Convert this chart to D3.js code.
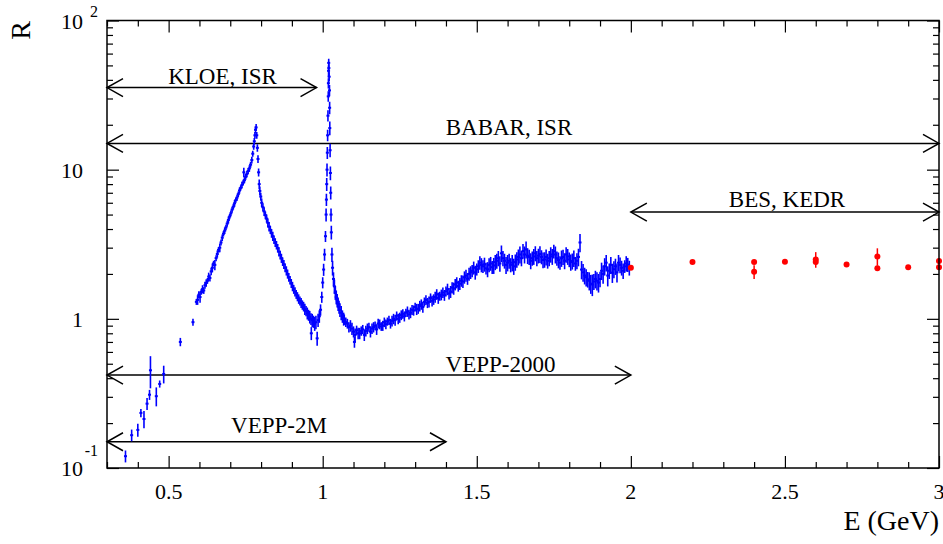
<!DOCTYPE html>
<html><head><meta charset="utf-8">
<script src="https://cdn.jsdelivr.net/npm/d3@7"></script>
<style>
body{margin:0;background:#fff}
svg{display:block}
text{font-family:"Liberation Serif","Times New Roman",Times,serif;fill:#000}
</style>
</head><body>
<svg id="c" width="943" height="544"></svg>
<script>
// ---------------- data ----------------
const blueE = [
0.360,0.380,0.400,0.410,0.420,0.430,0.438,0.441,0.460,0.471,0.484,0.538,0.579,
0.590,0.594,0.598,0.602,0.606,0.610,0.614,0.618,0.622,0.626,0.630,0.634,0.638,0.642,0.646,0.650,
0.654,0.658,0.662,0.666,0.670,0.674,0.678,0.682,0.686,0.690,0.694,0.698,0.702,0.706,0.710,0.714,
0.718,0.722,0.726,0.730,0.734,0.738,0.742,0.744,0.746,0.750,0.754,0.758,0.762,0.766,0.770,0.773,
0.776,0.778,0.780,0.782,0.784,0.786,
0.788,0.790,0.792,0.794,0.796,0.799,0.802,0.806,0.810,0.814,0.818,0.822,0.826,0.830,0.834,0.838,
0.842,0.846,0.850,0.854,0.858,0.862,0.866,0.870,0.874,0.878,0.882,0.886,0.890,0.894,0.898,0.902,
0.906,0.910,0.914,0.918,0.922,0.926,0.930,0.934,0.938,0.942,0.946,0.950,0.954,0.958,0.962,0.963,
0.966,0.970,0.974,0.978,0.982,0.985,0.989,
0.993,0.997,1.000,1.003,1.006,1.009,1.011,1.012,1.013,1.014,1.015,1.016,1.017,1.018,1.0185,1.019,
1.0195,1.020,1.021,1.022,1.0225,1.023,1.024,1.025,1.026,1.027,1.028,1.030,1.032,1.035,1.038,1.041,
1.044,1.047,1.050,1.053,1.056,1.060,1.064,1.068,
1.070,1.080,1.090,1.100,1.105,1.110,1.120,1.130,1.140,1.150,1.160,1.170,1.180,1.190,1.200,1.210,
1.220,1.230,1.240,1.250,1.260,1.270,1.280,1.290,1.300,1.310,1.320,1.330,1.340,1.350,1.360,1.370,
1.380,1.390,1.400,1.410,1.420,1.430,1.440,1.450,1.460,1.470,1.480,1.490,1.500,1.510,1.520,1.530,
1.540,1.550,1.560,1.570,1.580,1.590,1.600,1.610,1.620,1.630,1.640,1.650,1.660,1.670,1.680,1.690,
1.700,1.710,1.720,1.730,1.740,1.750,1.760,1.770,1.780,1.790,1.800,1.810,1.820,1.830,1.835,1.840,
1.850,1.860,1.870,1.880,1.890,1.900,1.910,1.920,1.930,1.940,1.950,1.960,1.970,1.980,1.990
];
const blueR = [
0.120,0.166,0.180,0.234,0.213,0.270,0.310,0.452,0.303,0.366,0.427,0.700,0.950,
1.30,1.34,1.45,1.40,1.52,1.58,1.55,1.68,1.74,1.80,1.92,1.88,2.08,2.20,2.35,2.30,
2.55,2.72,2.90,3.00,3.25,3.50,3.72,3.90,4.10,4.35,4.60,4.85,5.10,5.40,5.65,5.95,
6.25,6.50,6.85,7.25,7.55,7.90,8.20,9.60,8.50,8.95,9.35,9.80,10.2,10.8,11.6,12.8,
14.3,15.5,17.0,18.5,19.2,17.0,
14.0,11.8,9.6,8.0,7.2,6.6,6.0,5.6,5.25,4.95,4.70,4.40,4.15,3.95,3.75,3.58,
3.40,3.25,3.12,2.98,2.82,2.68,2.55,2.42,2.32,2.20,2.10,2.00,1.90,1.82,1.73,1.65,
1.58,1.52,1.46,1.41,1.36,1.32,1.28,1.24,1.21,1.16,1.13,1.09,1.06,1.03,1.00,0.80,
0.98,0.96,0.93,0.95,0.74,0.98,1.04,
1.15,1.40,1.75,2.14,2.70,3.58,5.0,6.3,8.0,10.0,13.0,17.0,23.0,31.0,38.0,46.0,
52.0,48.0,42.0,34.0,26.0,19.0,13.5,9.5,7.0,5.0,3.8,2.7,2.2,1.85,1.65,1.50,
1.40,1.33,1.26,1.20,1.15,1.10,1.04,1.00,
0.99,0.93,0.90,0.82,0.78,0.84,0.80,0.85,0.83,0.88,0.86,0.90,0.93,0.89,0.95,0.96,
0.93,1.00,1.05,1.02,1.08,1.10,1.07,1.15,1.20,1.17,1.25,1.30,1.28,1.38,1.35,1.46,
1.42,1.50,1.53,1.48,1.62,1.70,1.66,1.80,1.90,1.86,2.05,2.20,2.15,2.38,2.25,2.18,
2.30,2.22,2.40,2.55,2.75,2.45,2.38,2.30,2.25,2.50,2.70,2.85,2.92,2.60,2.55,2.75,
2.65,2.60,2.50,2.45,2.70,2.84,2.55,2.38,2.60,2.70,2.50,2.44,2.35,2.60,3.25,2.14,
1.95,1.84,1.72,1.78,1.80,1.85,2.00,2.38,2.10,2.04,2.25,2.38,2.20,2.25,2.31
];
const blueErr = [
0.011,0.015,0.018,0.015,0.028,0.025,0.024,0.11,0.044,0.020,0.058,0.045,0.050,
0.06,0.10,0.08,0.12,0.07,0.10,0.08,0.09,0.10,0.08,0.12,0.10,0.12,0.15,0.10,0.18,
0.12,0.15,0.13,0.20,0.15,0.18,0.16,0.20,0.18,0.20,0.25,0.20,0.22,0.25,0.25,0.30,
0.25,0.30,0.30,0.35,0.30,0.40,0.35,0.70,0.40,0.40,0.45,0.45,0.50,0.50,0.60,0.60,
0.70,0.80,0.90,1.00,1.00,0.90,
0.8,0.7,0.6,0.6,0.5,0.4,0.4,0.35,0.35,0.30,0.30,0.30,0.30,0.25,0.25,0.25,
0.22,0.22,0.20,0.20,0.20,0.18,0.18,0.16,0.16,0.15,0.15,0.14,0.13,0.12,0.12,0.12,
0.11,0.11,0.10,0.10,0.10,0.09,0.10,0.09,0.09,0.10,0.09,0.10,0.09,0.10,0.09,0.08,
0.10,0.09,0.10,0.10,0.08,0.10,0.10,
0.10,0.12,0.15,0.20,0.25,0.30,0.5,0.6,0.8,1.0,1.2,1.5,2.0,2.5,3.0,4.0,
3.5,3.5,3.0,3.0,2.5,2.0,1.4,1.0,0.7,0.5,0.4,0.3,0.25,0.2,0.18,0.16,
0.15,0.14,0.13,0.12,0.12,0.12,0.10,0.10,
0.08,0.07,0.08,0.07,0.08,0.06,0.07,0.06,0.07,0.06,0.07,0.06,0.07,0.06,0.07,0.06,
0.07,0.08,0.07,0.08,0.08,0.07,0.08,0.09,0.08,0.09,0.10,0.09,0.10,0.10,0.11,0.12,
0.10,0.12,0.12,0.13,0.14,0.15,0.14,0.16,0.18,0.17,0.20,0.22,0.20,0.25,0.22,0.20,
0.25,0.22,0.28,0.30,0.35,0.28,0.30,0.25,0.28,0.30,0.35,0.32,0.38,0.30,0.28,0.32,
0.30,0.28,0.30,0.28,0.32,0.30,0.28,0.25,0.30,0.32,0.28,0.30,0.25,0.35,0.45,0.30,
0.25,0.22,0.25,0.22,0.25,0.22,0.28,0.30,0.25,0.30,0.28,0.30,0.25,0.22,0.25
];
// second (interleaved) set of continuum points
const contE = [
1.075,1.085,1.095,1.103,1.115,1.125,1.135,1.145,1.155,1.165,1.175,1.185,1.195,1.205,1.215,1.225,
1.235,1.245,1.255,1.265,1.275,1.285,1.295,1.305,1.315,1.325,1.335,1.345,1.355,1.365,1.375,1.385,
1.395,1.405,1.415,1.425,1.435,1.445,1.455,1.465,1.475,1.485,1.495,1.505,1.515,1.525,1.535,1.545,
1.555,1.565,1.575,1.585,1.595,1.605,1.615,1.625,1.635,1.645,1.655,1.665,1.675,1.685,1.695,1.705,
1.715,1.725,1.735,1.745,1.755,1.765,1.775,1.785,1.795,1.805,1.815,1.825,1.845,1.855,1.865,1.875,
1.885,1.895,1.905,1.915,1.925,1.935,1.945,1.955,1.965,1.975,1.985,1.995
];
const contR = [
0.95,0.88,0.86,0.70,0.80,0.83,0.78,0.86,0.82,0.88,0.85,0.92,0.90,0.92,0.98,0.97,
0.98,1.00,1.06,1.04,1.12,1.10,1.14,1.16,1.22,1.20,1.34,1.30,1.32,1.40,1.38,1.45,
1.44,1.58,1.52,1.60,1.75,1.72,1.78,1.95,2.00,2.10,2.05,2.25,2.30,2.32,2.15,2.35,
2.28,2.45,2.35,2.55,2.30,2.45,2.38,2.40,2.60,2.55,2.70,2.65,2.45,2.62,2.55,2.72,
2.48,2.60,2.55,2.62,2.70,2.48,2.55,2.45,2.62,2.40,2.55,2.45,2.05,1.90,1.80,1.70,
1.85,1.75,2.10,2.25,1.95,2.30,2.15,2.05,2.30,2.10,2.35,2.20
];
const contErr = [
0.07,0.07,0.08,0.06,0.07,0.06,0.07,0.07,0.07,0.07,0.07,0.07,0.07,0.07,0.07,0.08,
0.08,0.08,0.08,0.08,0.09,0.09,0.09,0.10,0.10,0.10,0.10,0.11,0.11,0.12,0.12,0.12,
0.12,0.14,0.14,0.15,0.15,0.16,0.17,0.18,0.20,0.20,0.22,0.22,0.25,0.25,0.25,0.25,
0.28,0.28,0.28,0.30,0.30,0.28,0.30,0.30,0.32,0.30,0.35,0.32,0.30,0.32,0.30,0.35,
0.30,0.32,0.30,0.32,0.35,0.30,0.32,0.30,0.32,0.30,0.32,0.30,0.28,0.25,0.25,0.28,
0.25,0.25,0.28,0.30,0.30,0.30,0.28,0.30,0.28,0.25,0.28,0.25
];
const redE   = [2.0, 2.2, 2.4, 2.4, 2.5, 2.6, 2.6, 2.7, 2.8, 2.8, 2.9, 3.0, 3.0];
const redR   = [2.20,2.40,2.40,2.07,2.41,2.50,2.40,2.31,2.62,2.18,2.22,2.44,2.22];
const redErr = [0.04,0.05,0.06,0.22,0.05,0.30,0.10,0.05,0.35,0.06,0.05,0.10,0.06];

const xTicks = [0.5, 1, 1.5, 2, 2.5, 3];
const xTickLabels = ["0.5", "1", "1.5", "2", "2.5", "3"];
const yTicks = [0.1, 1, 10, 100];
const yTickBase = ["10", "1", "10", "10"];
const yTickExp  = ["-1", "", "", "2"];

const rangeLabels = ["KLOE, ISR", "BABAR, ISR", "BES, KEDR", "VEPP-2000", "VEPP-2M"];
const rangeFrom   = [0.3, 0.3, 2.0, 0.3, 0.3];
const rangeTo     = [0.98, 3.0, 3.0, 2.0, 1.4];
const rangeAt     = [35.5, 15.0, 5.2, 0.42, 0.15];

// ---------------- layout ----------------
const L = 107, R = 939, T = 20.5, B = 468;
const labelCenterX = [222.5, 509, 787, 500.5, 279];
const labelGap = [3.3, 8, 5, 3, 8.3];

const svg = d3.select("#c");
svg.append("rect").attr("width",943).attr("height",544).attr("fill","#fff");
const x = d3.scaleLinear().domain([0.3, 3.0]).range([L, R]);
const y = d3.scaleLog().domain([0.1, 100]).range([B, T]);

svg.append("clipPath").attr("id","clip").append("rect")
  .attr("x",L).attr("y",T).attr("width",R-L).attr("height",B-T);

// axes ticks
const minorX = d3.range(3, 31).map(d => d/10).filter(v => !xTicks.some(t => Math.abs(t-v) < 1e-9));
const minorY = y.ticks().filter(v => !yTicks.some(t => Math.abs(t-v)/t < 1e-9));

function styleAxis(g){
  g.select(".domain").remove();
  g.selectAll(".tick line").attr("stroke","#000").attr("stroke-width",1.2);
  g.selectAll(".tick text").remove();
}
svg.append("g").attr("transform",`translate(0,${B})`)
  .call(d3.axisBottom(x).tickValues(xTicks).tickSize(-12).tickSizeOuter(0)).call(styleAxis);
svg.append("g").attr("transform",`translate(0,${B})`)
  .call(d3.axisBottom(x).tickValues(minorX).tickSize(-6).tickSizeOuter(0)).call(styleAxis);
svg.append("g").attr("transform",`translate(0,${T})`)
  .call(d3.axisTop(x).tickValues(xTicks).tickSize(-12).tickSizeOuter(0)).call(styleAxis);
svg.append("g").attr("transform",`translate(0,${T})`)
  .call(d3.axisTop(x).tickValues(minorX).tickSize(-6).tickSizeOuter(0)).call(styleAxis);
svg.append("g").attr("transform",`translate(${L},0)`)
  .call(d3.axisLeft(y).tickValues(yTicks).tickSize(-12).tickSizeOuter(0)).call(styleAxis);
svg.append("g").attr("transform",`translate(${L},0)`)
  .call(d3.axisLeft(y).tickValues(minorY).tickSize(-6).tickSizeOuter(0)).call(styleAxis);
svg.append("g").attr("transform",`translate(${R},0)`)
  .call(d3.axisRight(y).tickValues(yTicks).tickSize(-12).tickSizeOuter(0)).call(styleAxis);
svg.append("g").attr("transform",`translate(${R},0)`)
  .call(d3.axisRight(y).tickValues(minorY).tickSize(-6).tickSizeOuter(0)).call(styleAxis);

// tick labels
svg.append("g").selectAll("text").data(xTicks).join("text")
  .attr("x", d => x(d)).attr("y", 499).attr("text-anchor","middle")
  .attr("font-size", 22).text((d,i) => xTickLabels[i]);

const yl = svg.append("g").selectAll("g").data(yTicks).join("g");
yl.append("text").attr("x", 83).attr("y", d => y(d) + 8).attr("text-anchor","end")
  .attr("font-size", 22).text((d,i) => yTickBase[i]);
yl.append("text").attr("x", 98)
  .attr("y", (d,i) => y(d) + 8 - (yTickExp[i] === "-1" ? 20 : 12))
  .attr("text-anchor","end").attr("font-size", 16).text((d,i) => yTickExp[i]);

// axis titles
svg.append("text").attr("x", 939).attr("y", 530).attr("text-anchor","end")
  .attr("font-size", 28).text("E (GeV)");
svg.append("text").attr("transform","translate(30,21) rotate(-90)").attr("text-anchor","end")
  .attr("font-size", 28).text("R");

// range arrows
const ar = svg.append("g").attr("stroke","#000").attr("stroke-width",1.5).attr("fill","none");
rangeLabels.forEach((lab, i) => {
  const x1 = x(rangeFrom[i]), x2 = x(rangeTo[i]), yy = y(rangeAt[i]);
  ar.append("line").attr("x1",x1).attr("x2",x2).attr("y1",yy).attr("y2",yy);
  ar.append("path").attr("d",`M${x1+16},${yy-9}L${x1},${yy}L${x1+16},${yy+9}`);
  ar.append("path").attr("d",`M${x2-16},${yy-9}L${x2},${yy}L${x2-16},${yy+9}`);
  svg.append("text").attr("x", labelCenterX[i]).attr("y", yy - labelGap[i])
    .attr("text-anchor","middle").attr("font-size", 23).text(lab);
});

// data
const dg = svg.append("g").attr("clip-path","url(#clip)");
const blue = blueE.map((e,i) => ({e, r: blueR[i], s: blueErr[i]}))
  .concat(contE.map((e,i) => ({e, r: contR[i], s: contErr[i]})));
dg.append("g").attr("stroke","#0000ff").attr("stroke-width",1.6)
  .selectAll("line").data(blue).join("line")
  .attr("x1", d => x(d.e)).attr("x2", d => x(d.e))
  .attr("y1", d => y(d.r + d.s)).attr("y2", d => y(Math.max(d.r - d.s, 0.05)));
dg.append("g").attr("fill","#0000ff")
  .selectAll("rect").data(blue).join("rect")
  .attr("x", d => x(d.e) - 1.5).attr("y", d => y(d.r) - 1).attr("width", 3).attr("height", 2);

const red = redE.map((e,i) => ({e, r: redR[i], s: redErr[i]}));
svg.append("g").attr("stroke","#ff0000").attr("stroke-width",1.5)
  .selectAll("line").data(red).join("line")
  .attr("x1", d => x(d.e)).attr("x2", d => x(d.e))
  .attr("y1", d => y(d.r + d.s)).attr("y2", d => y(d.r - d.s));
svg.append("g").attr("fill","#ff0000")
  .selectAll("circle").data(red).join("circle")
  .attr("cx", d => x(d.e)).attr("cy", d => y(d.r)).attr("r", 3);

// frame
svg.append("rect").attr("x",L).attr("y",T).attr("width",R-L).attr("height",B-T)
  .attr("fill","none").attr("stroke","#000").attr("stroke-width",1.5);
</script>
</body></html>
